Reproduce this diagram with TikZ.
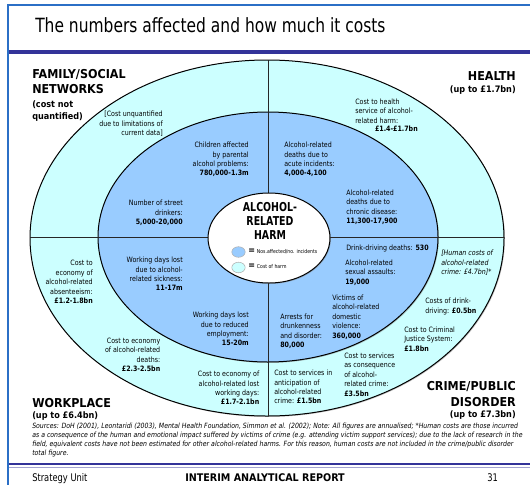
\documentclass[tikz,border=0pt]{standalone}
\usepackage{fontspec}
\setmainfont{DejaVu Sans}
\newfontfamily\txtfont[FakeStretch=0.86]{DejaVu Sans}
\newfontfamily\headfont[FakeStretch=0.91]{DejaVu Sans}
\newfontfamily\titlefont[FakeStretch=0.79]{DejaVu Sans}
\newfontfamily\harmfont[FakeStretch=0.77]{DejaVu Sans}
\usetikzlibrary{shadows}
\definecolor{ringcyan}{HTML}{CCFFFF}
\definecolor{ringblue}{HTML}{99CCFF}
\definecolor{pageblue}{HTML}{2B6FC6}
\definecolor{rulepurple}{HTML}{333399}
\begin{document}
\begin{tikzpicture}[x=0.75pt,y=-0.75pt,
    every node/.style={inner sep=0pt},
    txt/.style={font=\txtfont\fontsize{5.5}{7.1}\selectfont},
    txtl/.style={txt,align=left,anchor=west},
    txtr/.style={txt,align=right,anchor=east},
    head/.style={font=\headfont\bfseries\fontsize{9.2}{11}\selectfont},
    subhead/.style={font=\headfont\bfseries\fontsize{6.7}{8}\selectfont},
    ring/.style={draw=black,line width=0.75pt,
        drop shadow={shadow xshift=0.7pt,shadow yshift=-0.7pt,opacity=0.45}},
    divider/.style={draw=black!85,line width=0.75pt},
    legendblob/.style={draw=black!30,line width=0.4pt}]
    \useasboundingbox (0,0) rectangle (530,485);

    % page frame
    \draw [pageblue,line width=2pt] (530,5) -- (8,5) -- (8,485);
    \draw [rulepurple,line width=3pt] (9,52) -- (530,52);
    \draw [rulepurple,line width=1.6pt] (9,464) -- (530,464);
    \draw [rulepurple!45,line width=0.6pt] (9,467.5) -- (530,467.5);
    \node [font=\titlefont\fontsize{14.7}{16}\selectfont,anchor=base west] (title) at (35,33) {The numbers affected and how much it costs};

    % rings
    \fill [ringcyan,ring] (267,238) ellipse [x radius=237,y radius=178];
    \fill [ringblue,ring] (268,237) ellipse [x radius=170,y radius=125];
    \coordinate (hw) at (30,237);
    \coordinate (he) at (504,237);
    \coordinate (vn) at (268,60);
    \coordinate (vs) at (268,416);
    \draw [divider] (hw) -- (he);
    \draw [divider] (vn) -- (vs);
    \fill [white,ring] (269,238) ellipse [x radius=61,y radius=45];

    % centre and legend
    \node [font=\harmfont\bfseries\fontsize{9.2}{10.5}\selectfont,align=center] (harm) at (270,220.5) {ALCOHOL-\\RELATED\\HARM};
    \fill [ringblue,legendblob] (238.5,252) ellipse [x radius=6.7,y radius=5.3];
    \fill [ringcyan,legendblob] (238.5,267.5) ellipse [x radius=6.7,y radius=5.3];
    \node [anchor=west] (legnos) at (248,251.5) {\txtfont\bfseries\fontsize{7}{7}\selectfont =\hspace{1.5pt}\mdseries\fontsize{4}{4}\selectfont Nos.affected/no. incidents};
    \node [anchor=west] (legcost) at (248,266.5) {\txtfont\bfseries\fontsize{7}{7}\selectfont =\hspace{1.5pt}\mdseries\fontsize{4}{4}\selectfont Cost of harm};

    % family/social networks
    \node [head,anchor=base west] (fam1) at (32,78) {FAMILY/SOCIAL};
    \node [head,anchor=base west] (fam2) at (32,93) {NETWORKS};
    \node [subhead,anchor=base west] (fam3) at (32,107) {(cost not};
    \node [subhead,anchor=base west] (fam4) at (32,119) {quantified)};
    \node [txtr] (famcost) at (163,124) {[Cost unquantified\\due to limitations of\\current data]};
    \node [txtr] (children) at (249,159.5) {Children affected\\by parental\\alcohol problems:\\\textbf{780,000-1.3m}};
    \node [txtr] (street) at (183,213) {Number of street\\drinkers:\\\textbf{5,000-20,000}};

    % health
    \node [head,anchor=base east] (hea1) at (516,80) {HEALTH};
    \node [subhead,anchor=base east] (hea2) at (516,92) {(up to £1.7bn)};
    \node [txtl] (nhs) at (355,111) {Cost to health\\service of alcohol-\\related harm:};
    \node [txt,anchor=east] (nhsval) at (418,129) {\textbf{£1.4-£1.7bn}};
    \node [txtl] (acute) at (284,159.5) {Alcohol-related\\deaths due to\\acute incidents:\\\textbf{4,000-4,100}};
    \node [txtl] (chronic) at (346,207) {Alcohol-related\\deaths due to\\chronic disease:\\\textbf{11,300-17,900}};

    % workplace
    \node [txtr] (absent) at (93,282) {Cost to\\economy of\\alcohol-related\\absenteeism:\\\textbf{£1.2-1.8bn}};
    \node [txtr] (sick) at (183,274) {Working days lost\\due to alcohol-\\related sickness:\\\textbf{11-17m}};
    \node [txtr] (employ) at (249,329) {Working days lost\\due to reduced\\employment:\\\textbf{15-20m}};
    \node [txtr] (deaths) at (160.5,355) {Cost to economy\\of alcohol-related\\deaths:\\\textbf{£2.3-2.5bn}};
    \node [txtr] (lostdays) at (259.5,388) {Cost to economy of\\alcohol-related lost\\working days:\\\textbf{£1.7-2.1bn}};
    \node [head,anchor=base west] (wor1) at (32,407) {WORKPLACE};
    \node [subhead,anchor=base west] (wor2) at (32,418) {(up to £6.4bn)};

    % crime/public disorder
    \node [txtl] (drinkdeath) at (346,248) {Drink-driving deaths: \textbf{530}};
    \node [txtl] (assault) at (345,272.5) {Alcohol-related\\sexual assaults:\\\textbf{19,000}};
    \node [txtl,font=\txtfont\itshape\fontsize{5.5}{7.1}\selectfont] (human) at (441,263) {[Human costs of\\alcohol-related\\crime: £4.7bn]*};
    \node [txtl] (drinkcost) at (425,306.5) {Costs of drink-\\driving: \textbf{£0.5bn}};
    \node [txtl] (domestic) at (332,317) {Victims of\\alcohol-related\\domestic\\violence:\\\textbf{360,000}};
    \node [txtl] (arrests) at (280,331) {Arrests for\\drunkenness\\and disorder:\\\textbf{80,000}};
    \node [txtl] (cjs) at (404,339) {Cost to Criminal\\Justice System:\\\textbf{£1.8bn}};
    \node [txtl] (consequence) at (344,374.5) {Cost to services\\as consequence\\of alcohol-\\related crime:\\\textbf{£3.5bn}};
    \node [txtl] (anticipation) at (274,387) {Cost to services in\\anticipation of\\alcohol-related\\crime: \textbf{£1.5bn}};
    \node [head,anchor=base east] (cri1) at (516,390) {CRIME/PUBLIC};
    \node [head,anchor=base east] (cri2) at (516,406) {DISORDER};
    \node [subhead,anchor=base east] (cri3) at (516,417) {(up to £7.3bn)};

    % notes and footer
    \node [anchor=west,align=left,font=\txtfont\itshape\fontsize{5.4}{6.75}\selectfont] (notes) at (32,440.5) {Sources: DoH (2001), Leontaridi (2003), Mental Health Foundation, Simmon et al. (2002); Note: All figures are annualised; *Human costs are those incurred\\as a consequence of the human and emotional impact suffered by victims of crime (e.g. attending victim support services); due to the lack of research in the\\field, equivalent costs have not been estimated for other alcohol-related harms. For this reason, human costs are not included in the crime/public disorder\\total figure.};
    \node [font=\titlefont\fontsize{7.9}{9}\selectfont,anchor=base west] (unit) at (32,481) {Strategy Unit};
    \node [font=\headfont\bfseries\fontsize{7.9}{9}\selectfont,anchor=base west] (report) at (185,481) {INTERIM ANALYTICAL REPORT};
    \node [font=\titlefont\fontsize{7.9}{9}\selectfont,anchor=base west] (page) at (487,481) {31};
\end{tikzpicture}
\end{document}
